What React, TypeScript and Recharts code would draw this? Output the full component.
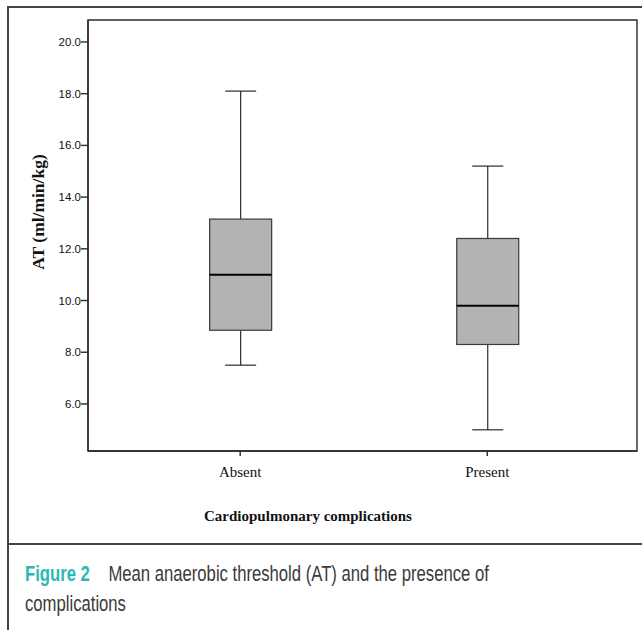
import { ComposedChart, Bar, XAxis, YAxis, ReferenceArea, Label } from 'recharts';

// box plot statistics
const categories = ['Absent', 'Present'];
const categoryPos = [0, 1];
const whiskerLow = [7.5, 5.0];
const quart1 = [8.85, 8.3];
const medians = [11.0, 9.8];
const quart3 = [13.15, 12.4];
const whiskerHigh = [18.1, 15.2];

const yTicks = [6, 8, 10, 12, 14, 16, 18, 20];
const yDomain: [number, number] = [4.18, 20.85];
const xDomain: [number, number] = [-0.616, 1.606];

const data = categories.map((name, i) => ({
  name,
  pos: categoryPos[i],
  low: whiskerLow[i],
  q1: quart1[i],
  median: medians[i],
  q3: quart3[i],
  high: whiskerHigh[i],
  range: [whiskerLow[i], whiskerHigh[i]],
}));

const INK = '#2b2b2b';

// the bar spans low..high, so its pixel box gives the scale for the other stats
function BoxShape(props: any) {
  const { x, y, width, height, payload } = props;
  const { low, q1, median, q3, high } = payload;
  const k = height / (high - low);
  const py = (v: number) => y + (high - v) * k;
  const cx = x + width / 2;
  const cap = width / 4;
  return (
    <g>
      <line x1={cx} x2={cx} y1={py(high)} y2={py(q3)} stroke={INK} strokeWidth={1.2} />
      <line x1={cx} x2={cx} y1={py(q1)} y2={py(low)} stroke={INK} strokeWidth={1.2} />
      <line x1={cx - cap} x2={cx + cap} y1={py(high)} y2={py(high)} stroke={INK} strokeWidth={1.2} />
      <line x1={cx - cap} x2={cx + cap} y1={py(low)} y2={py(low)} stroke={INK} strokeWidth={1.2} />
      <rect x={x} y={py(q3)} width={width} height={py(q1) - py(q3)} fill="#b3b3b3" stroke="#3a3a3a" strokeWidth={1.2} />
      <line x1={x} x2={x + width} y1={py(median)} y2={py(median)} stroke="#000" strokeWidth={2} />
    </g>
  );
}

export default function App() {
  return (
    <div style={{ position: 'absolute', left: 0, top: 0, width: 642, height: 630, background: '#fff', overflow: 'hidden' }}>
      <div style={{ position: 'absolute', left: 7, top: 6, width: 640, height: 2, background: '#454545' }} />
      <div style={{ position: 'absolute', left: 7, top: 6, width: 2, height: 630, background: '#454545' }} />
      <div style={{ position: 'absolute', left: 7, top: 543, width: 640, height: 2, background: '#454545' }} />

      <div style={{ position: 'absolute', left: 0, top: 0 }}>
        <ComposedChart width={642} height={540} data={data} margin={{ top: 20, right: 5, bottom: 59, left: 28 }}>
          <XAxis
            type="number"
            dataKey="pos"
            domain={xDomain}
            ticks={categoryPos}
            allowDataOverflow
            tickFormatter={(v: number) => categories[v] ?? ''}
            tick={{ fontFamily: '"Liberation Serif", serif', fontSize: 15, fill: '#111' }}
            tickSize={5}
            tickMargin={10}
            stroke={INK}
            strokeWidth={1.4}
            height={30}
          />
          <YAxis
            type="number"
            domain={yDomain}
            ticks={yTicks}
            allowDataOverflow
            tickFormatter={(v: number) => v.toFixed(1)}
            tick={{ fontFamily: '"Liberation Sans", Arial, sans-serif', fontSize: 11.5, fill: '#111' }}
            tickSize={7}
            tickMargin={0}
            stroke={INK}
            strokeWidth={1.4}
            width={60}
          >
            <Label
              content={() => (
                <text
                  x={38}
                  y={212}
                  transform="rotate(-90 38 212)"
                  textAnchor="middle"
                  dominantBaseline="central"
                  fontFamily='"Liberation Serif", serif'
                  fontWeight="bold"
                  fontSize={17.5}
                  fill="#111"
                >
                  AT (ml/min/kg)
                </text>
              )}
            />
          </YAxis>
          <ReferenceArea
            x1={xDomain[0]}
            x2={xDomain[1]}
            y1={yDomain[0]}
            y2={yDomain[1]}
            fill="none"
            fillOpacity={0}
            stroke={INK}
            strokeWidth={1.4}
            ifOverflow="visible"
          />
          <Bar dataKey="range" barSize={62} shape={BoxShape} isAnimationActive={false} />
        </ComposedChart>
      </div>

      <div
        style={{
          position: 'absolute',
          left: 0,
          width: 616,
          top: 508,
          textAlign: 'center',
          fontFamily: '"Liberation Serif", serif',
          fontWeight: 'bold',
          fontSize: 15,
          color: '#111',
        }}
      >
        Cardiopulmonary complications
      </div>

      <div
        style={{
          position: 'absolute',
          left: 25,
          top: 559,
          fontFamily: '"Liberation Sans", Arial, sans-serif',
          fontSize: 21.5,
          lineHeight: '30px',
          color: '#3a3a3a',
          whiteSpace: 'nowrap',
          transform: 'scaleX(0.775)',
          transformOrigin: '0 0',
        }}
      >
        <span style={{ color: '#2bb8b5', fontWeight: 'bold' }}>Figure 2</span>
        <span style={{ marginLeft: 24 }}>Mean anaerobic threshold (AT) and the presence of</span>
        <br />
        complications
      </div>
    </div>
  );
}
